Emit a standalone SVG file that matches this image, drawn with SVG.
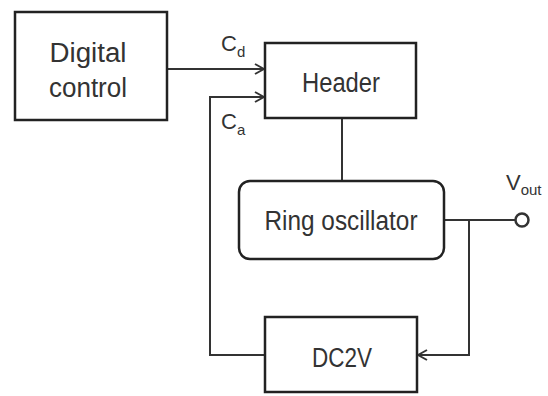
<svg xmlns="http://www.w3.org/2000/svg" width="548" height="396" viewBox="0 0 548 396">
<style>
.box{fill:#fff;stroke:#222;stroke-width:2.5}
.ln{fill:none;stroke:#333;stroke-width:2}
.t{font-family:"Liberation Sans",Arial,sans-serif;font-size:27px;fill:#333;text-anchor:middle}
.s{font-family:"Liberation Sans",Arial,sans-serif;font-size:22px;fill:#333}
.sub{font-size:15px}
</style>
<defs>
<marker id="arr" viewBox="0 0 12 12" refX="11" refY="6" markerWidth="12" markerHeight="12" markerUnits="userSpaceOnUse" orient="auto">
<path d="M2,1 L11,6 L2,11" fill="none" stroke="#333" stroke-width="2"/>
</marker>
</defs>
<rect width="548" height="396" fill="#fff"/>
<g id="connectors">
<line class="ln" x1="167" y1="69" x2="264" y2="69" marker-end="url(#arr)"/>
<polyline class="ln" points="265,355 210,355 210,97 264,97" marker-end="url(#arr)"/>
<line class="ln" x1="342" y1="118" x2="342" y2="181"/>
<line class="ln" x1="444" y1="220" x2="515" y2="220"/>
<polyline class="ln" points="469,220 469,355 418,355" marker-end="url(#arr)"/>
<circle cx="522" cy="220" r="6.5" fill="#fff" stroke="#333" stroke-width="2.5"/>
<text class="s" x="221" y="51">C<tspan class="sub" dy="6">d</tspan></text>
<text class="s" x="221" y="129">C<tspan class="sub" dy="6">a</tspan></text>
<text class="s" x="506" y="190">V<tspan class="sub" dy="5">out</tspan></text>
</g>
<g id="digital-control">
<rect class="box" x="15" y="12" width="152" height="108"/>
<text class="t" x="88" y="62" textLength="77" lengthAdjust="spacingAndGlyphs">Digital</text>
<text class="t" x="88" y="97" textLength="78" lengthAdjust="spacingAndGlyphs">control</text>
</g>
<g id="header">
<rect class="box" x="265" y="43" width="151" height="75"/>
<text class="t" x="341" y="92" textLength="78" lengthAdjust="spacingAndGlyphs">Header</text>
</g>
<g id="ring-oscillator">
<rect class="box" x="239" y="181" width="205" height="78" rx="11"/>
<text class="t" x="341" y="230" textLength="153" lengthAdjust="spacingAndGlyphs">Ring oscillator</text>
</g>
<g id="dc2v">
<rect class="box" x="265" y="317" width="152" height="75"/>
<text class="t" x="342" y="367" textLength="60" lengthAdjust="spacingAndGlyphs">DC2V</text>
</g>
</svg>
